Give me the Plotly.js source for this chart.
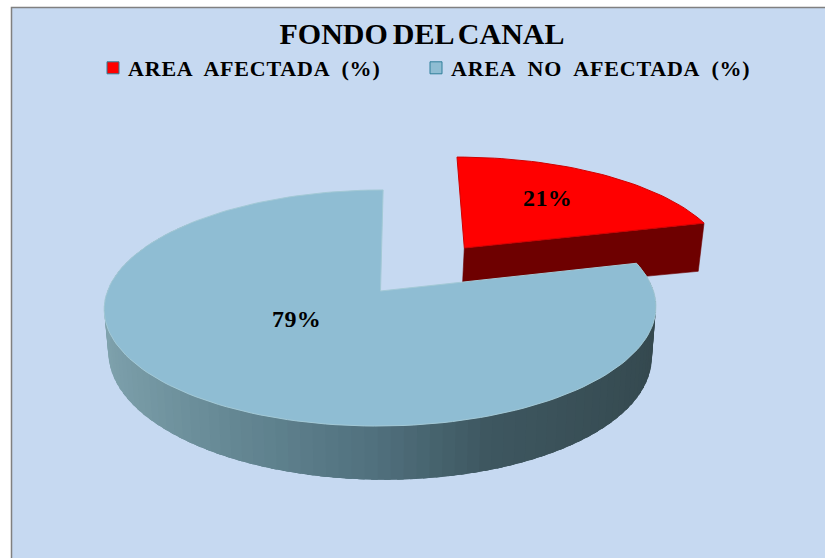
<!DOCTYPE html>
<html><head><meta charset="utf-8">
<script src="https://cdn.plot.ly/plotly-3.0.1.min.js"></script>
<style>html,body{margin:0;padding:0;background:#fff}#c{width:825px;height:558px}
.legendtext{letter-spacing:0.8px;word-spacing:6px;transform:translateX(-5px)}
.legend .scrollbox{clip-path:none}
.gtitle{word-spacing:-2.5px}
.annotation-text{letter-spacing:0.4px}</style></head>
<body><div id="c"></div>
<script>
// Data
var categories = ["AREA AFECTADA (%)", "AREA NO AFECTADA (%)"];
var values = [21, 79];
var chartTitle = "FONDO DEL CANAL";

// Style
var topColors = ["#ff0000", "#8fbdd3"];
var legendLines = ["#2f7f9a", "#2f7f9a"];
var redWall = "#6e0000";
var wallStops = [[-1, [128,163,174]], [-0.45, [100,135,147]], [0, [80,112,125]], [0.35, [62,87,96]], [1, [52,72,78]]];

// Projection of the pie plane onto the page (a tilted circle in perspective)
var cx = 380.5, cy = 291, A = 115.6, B = 273, K = 0.144, C = 3, D = 46, E = 4, SHRINK = 0.985;
function project(u, v, lower, nudge) {
  var w = 1 + K * v;
  var x = (B * u + C * v) / w, y = -A * v / w;
  if (lower) { x *= SHRINK; y += D / w + E * u; }
  if (nudge) { x += nudge[0]; y += nudge[1]; }
  return [cx + x, cy + y];
}
function rim(theta, ou, ov) {
  return [ou + Math.sin(theta), ov + Math.cos(theta)];
}
var total = values[0] + values[1];
var split = values[0] / total * 2 * Math.PI;
var EXPLODE = 0.51, redNudge = [2, 1], redNudgeLower = [1, 2];
var ou = EXPLODE * Math.sin(split / 2), ov = EXPLODE * Math.cos(split / 2);

function sector(a0, a1, o1, o2, n, nudge) {
  var xs = [], ys = [], p = project(o1, o2, false, nudge);
  xs.push(p[0]); ys.push(p[1]);
  for (var i = 0; i <= n; i++) {
    var t = a0 + (a1 - a0) * i / n, r = rim(t, o1, o2);
    p = project(r[0], r[1], false, nudge);
    xs.push(p[0]); ys.push(p[1]);
  }
  p = project(o1, o2, false, nudge); xs.push(p[0]); ys.push(p[1]);
  return {x: xs, y: ys};
}
function quad(pts) {
  return {x: pts.map(function(p){return p[0];}).concat(pts[0][0]),
          y: pts.map(function(p){return p[1];}).concat(pts[0][1])};
}
function poly(g, color, line, width) {
  return {type: "scatter", mode: "lines", x: g.x, y: g.y, fill: "toself", fillcolor: color,
          line: {color: line || color, width: width || 0.6}, hoverinfo: "skip", showlegend: false};
}
function wallColor(u) {
  for (var i = 0; i < wallStops.length - 1; i++) {
    var a = wallStops[i], b = wallStops[i + 1];
    if (u <= b[0]) {
      var f = Math.max(0, (u - a[0]) / (b[0] - a[0]));
      return "rgb(" + [0,1,2].map(function(k){return Math.round(a[1][k] + (b[1][k] - a[1][k]) * f);}).join(",") + ")";
    }
  }
  return "rgb(52,72,78)";
}

var traces = [];
// Red slice: front cut wall, then top
var apexT = project(ou, ov, false, redNudge), apexB = project(ou, ov, true, redNudgeLower);
var rimEnd = rim(split, ou, ov);
var endT = project(rimEnd[0], rimEnd[1], false, redNudge), endB = project(rimEnd[0], rimEnd[1], true, redNudgeLower);
traces.push(poly(quad([apexT, endT, endB, apexB]), redWall));
traces.push(poly(sector(0, split, ou, ov, 40, redNudge), topColors[0], "#d00000", 1));

// Blue slice: curved wall in overlapping strips, then top
var N = 120, span = 2 * Math.PI - split;
for (var i = 0; i < N; i++) {
  var t0 = split + span * i / N, t1 = split + span * (i + 2.5) / N;
  t1 = Math.min(t1, 2 * Math.PI);
  if (Math.cos(t0) > 0.6 && Math.cos(t1) > 0.6) continue;
  var r0 = rim(t0, 0, 0), r1 = rim(t1, 0, 0);
  var rm = rim(t0 + span / N / 2, 0, 0);
  var c = wallColor(rm[0]);
  var strip = quad([project(r0[0], r0[1]), project(r1[0], r1[1]), project(r1[0], r1[1], true), project(r0[0], r0[1], true)]);
  traces.push({type: "scatter", mode: "lines", fill: "toself", fillcolor: c, line: {width: 0},
    x: strip.x, y: strip.y, hoverinfo: "skip", showlegend: false});
}
traces.push(poly(sector(split, 2 * Math.PI, 0, 0, 160), topColors[1], "#a3c9d6", 1));

// Legend entries
categories.forEach(function(name, i) {
  traces.push({type: "scatter", mode: "markers", x: [-100], y: [-100], name: name, hoverinfo: "skip",
    marker: {symbol: "square", size: 12, color: topColors[i], line: {color: legendLines[i], width: 1}}});
});

var layout = {
  width: 825, height: 558,
  margin: {l: 0, r: 0, t: 0, b: 0},
  paper_bgcolor: "#ffffff", plot_bgcolor: "rgba(0,0,0,0)",
  xaxis: {range: [0, 825], visible: false, fixedrange: true},
  yaxis: {range: [558, 0], visible: false, fixedrange: true},
  title: {text: "<b>" + chartTitle + "</b>", x: 422 / 825, xref: "paper", xanchor: "center",
          y: 1 - 33 / 558, yref: "paper", yanchor: "middle",
          font: {family: "Liberation Serif", size: 30, color: "#000"}},
  showlegend: true,
  legend: {orientation: "h", x: 93 / 825, xanchor: "left", y: 1 - 68 / 558, yanchor: "middle",
           bgcolor: "rgba(0,0,0,0)", borderwidth: 0, entrywidth: 278, entrywidthmode: "pixels",
           traceorder: "normal", itemclick: false, itemdoubleclick: false,
           font: {family: "Liberation Serif", size: 22, color: "#000", weight: 700}},
  shapes: [{type: "rect", xref: "x", yref: "y", x0: 11.5, x1: 830, y0: 7.5, y1: 565, layer: "below",
            fillcolor: "#c6d9f1", line: {color: "#808080", width: 1.5}}],
  annotations: [
    {x: 547, y: 198, xref: "x", yref: "y", text: "<b>" + values[0] + "%</b>", showarrow: false,
     font: {family: "Liberation Serif", size: 24, color: "#000"}},
    {x: 296, y: 319, xref: "x", yref: "y", text: "<b>" + values[1] + "%</b>", showarrow: false,
     font: {family: "Liberation Serif", size: 24, color: "#000"}}
  ]
};
Plotly.newPlot("c", traces, layout, {displayModeBar: false, staticPlot: true});
</script></body></html>
